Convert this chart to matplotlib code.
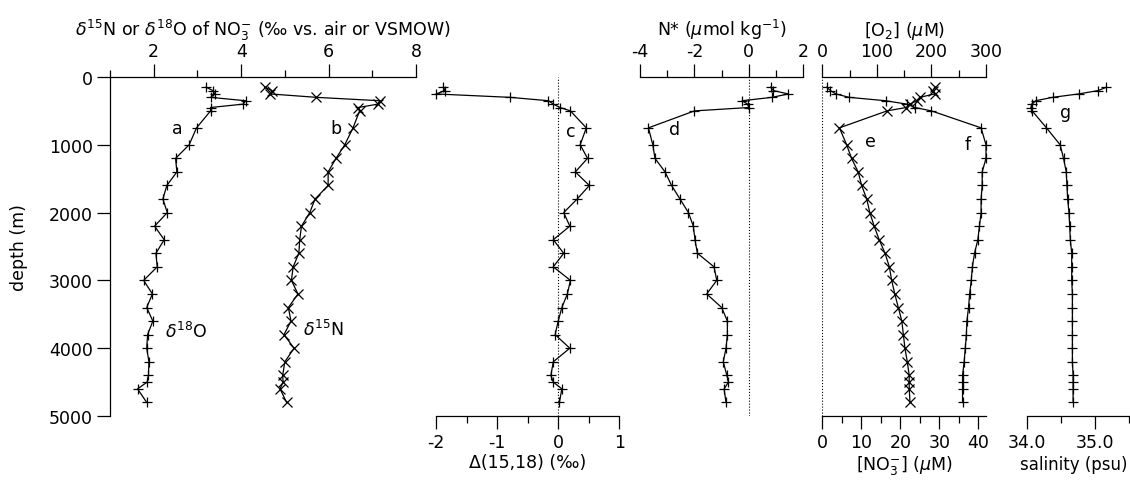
import numpy as np
import matplotlib.pyplot as plt
from matplotlib.ticker import MultipleLocator, FormatStrFormatter

plt.rcParams['font.family'] = ['DejaVu Sans']
plt.rcParams['mathtext.fontset'] = 'dejavusans'
plt.rcParams['axes.unicode_minus'] = False

# sample depths (m), shared by every profile
depth = [150, 200, 250, 300, 350, 400, 450, 500, 750, 1000, 1200, 1400, 1600, 1800,
         2000, 2200, 2400, 2600, 2800, 3000, 3200, 3400, 3600, 3800, 4000, 4200,
         4400, 4500, 4600, 4800]

d18O = [3.2, 3.35, 3.4, 3.3, 4.1, 4.05, 3.3, 3.3, 2.98, 2.81, 2.5, 2.53, 2.3, 2.21,
        2.31, 2.02, 2.24, 2.05, 2.08, 1.77, 1.97, 1.84, 1.98, 1.86, 1.84, 1.89,
        1.88, 1.85, 1.63, 1.84]
d15N = [4.54, 4.7, 4.67, 5.72, 7.17, 7.13, 6.68, 6.71, 6.56, 6.37, 6.17, 5.99, 5.99,
        5.69, 5.57, 5.38, 5.34, 5.32, 5.19, 5.15, 5.30, 5.08, 5.14, 4.98, 5.21, 5.0,
        4.95, 4.96, 4.89, 5.04]
delta1518 = [-1.88, -1.85, -2.0, -0.79, -0.16, -0.08, 0.03, 0.2, 0.46, 0.36, 0.48,
             0.28, 0.51, 0.31, 0.09, 0.19, -0.08, 0.09, -0.08, 0.2, 0.15, 0.06, 0.0,
             -0.05, 0.19, -0.08, -0.12, -0.08, 0.06, 0.02]
nstar = [0.8, 0.9, 1.45, 0.85, -0.25, -0.05, 0.0, -2.0, -3.69, -3.53, -3.45, -3.08,
         -2.84, -2.53, -2.22, -2.04, -1.98, -1.89, -1.28, -1.18, -1.55, -1.0, -0.79,
         -0.79, -0.84, -0.94, -0.81, -0.75, -0.91, -0.84]
no3 = [28.8, 28.5, 28.8, 25.0, 24.2, 22.5, 21.5, 16.6, 4.4, 6.25, 7.5, 9.2, 10.1,
       11.4, 12.2, 13.3, 14.6, 16.1, 17.2, 17.8, 18.6, 19.5, 20.4, 20.8, 21.2, 21.8,
       22.3, 22.3, 22.3, 22.5]
o2 = [8, 15, 25, 49, 116, 155, 170, 200, 291, 300, 300, 293, 293, 291, 291, 288, 285,
      279, 275, 273, 270, 268, 265, 264, 262, 260, 257, 257, 257, 257]
salinity = [35.17, 35.05, 34.76, 34.38, 34.13, 34.08, 34.06, 34.08, 34.29, 34.49,
            34.54, 34.58, 34.59, 34.6, 34.62, 34.63, 34.64, 34.66, 34.66, 34.66,
            34.67, 34.67, 34.67, 34.67, 34.67, 34.67, 34.68, 34.68, 34.68, 34.68]

W, H = 1130, 481
FS = 12.5
fig = plt.figure(figsize=(W / 100, H / 100), dpi=100)

def box(x0, x1):
    return [x0 / W, (H - 417) / H, (x1 - x0) / W, 339 / H]

def style(ax, spines):
    for s in ['left', 'right', 'top', 'bottom']:
        ax.spines[s].set_visible(s in spines)
        ax.spines[s].set_linewidth(0.9)
    ax.set_ylim(5000, 0)
    ax.tick_params(which='major', direction='out', length=9.5, width=0.9, labelsize=FS, pad=3)
    ax.tick_params(which='minor', direction='out', length=5, width=0.9)
    if 'left' not in spines:
        ax.tick_params(axis='y', left=False, labelleft=False)
    ax.patch.set_alpha(0)

def prof(ax, x, m):
    ax.plot(x, depth, color='k', lw=0.9, marker=m, ms=7, mew=0.9, clip_on=False)

# a, b: d15N and d18O
ax1 = fig.add_axes(box(110, 416))
style(ax1, ['left', 'top'])
prof(ax1, d18O, '+')
prof(ax1, d15N, 'x')
ax1.set_xlim(1, 8)
ax1.xaxis.tick_top()
ax1.xaxis.set_label_position('top')
ax1.xaxis.set_major_locator(MultipleLocator(2))
ax1.xaxis.set_minor_locator(MultipleLocator(1))
ax1.yaxis.set_major_locator(MultipleLocator(1000))
ax1.set_ylabel('depth (m)', fontsize=FS)
ax1.yaxis.set_label_coords(-82 / 306, 0.5)
ax1.set_xlabel(r'$\delta^{15}$N or $\delta^{18}$O of NO$_3^{-}$ (‰ vs. air or VSMOW)',
               fontsize=FS, labelpad=5)
ax1.text(2.41, 757, 'a', fontsize=FS, ha='left', va='center')
ax1.text(6.05, 757, 'b', fontsize=FS, ha='left', va='center')
ax1.text(2.26, 3740, r'$\delta^{18}$O', fontsize=FS, ha='left', va='center')
ax1.text(5.41, 3710, r'$\delta^{15}$N', fontsize=FS, ha='left', va='center')

# c: Delta(15,18)
ax2 = fig.add_axes(box(436, 619.3))
style(ax2, ['bottom'])
ax2.axvline(0, color='k', ls=':', lw=0.8)
prof(ax2, delta1518, '+')
ax2.set_xlim(-2, 1)
ax2.xaxis.set_major_locator(MultipleLocator(1))
ax2.xaxis.set_minor_locator(MultipleLocator(0.5))
ax2.set_xlabel('Δ(15,18) (‰)', fontsize=FS, labelpad=1)
ax2.text(0.13, 790, 'c', fontsize=FS, ha='left', va='center')

# d: N*
ax3 = fig.add_axes(box(640, 803.3))
style(ax3, ['top'])
ax3.axvline(0, color='k', ls=':', lw=0.8)
prof(ax3, nstar, '+')
ax3.set_xlim(-4, 2)
ax3.xaxis.tick_top()
ax3.xaxis.set_label_position('top')
ax3.xaxis.set_major_locator(MultipleLocator(2))
ax3.xaxis.set_minor_locator(MultipleLocator(1))
ax3.set_xlabel(r'N* ($\mu$mol kg$^{-1}$)', fontsize=FS, labelpad=5)
ax3.text(-2.95, 767, 'd', fontsize=FS, ha='left', va='center')

# e, f: nitrate (bottom) and oxygen (top)
ax4 = fig.add_axes(box(822.3, 986))
style(ax4, ['bottom'])
ax4.axvline(0, color='k', ls=':', lw=0.8)
prof(ax4, no3, 'x')
ax4.set_xlim(0, 42)
ax4.xaxis.set_major_locator(MultipleLocator(10))
ax4.xaxis.set_minor_locator(MultipleLocator(5))
ax4.set_xlabel(r'[NO$_3^{-}$] ($\mu$M)', fontsize=FS, labelpad=1)
ax4.text(10.9, 950, 'e', fontsize=FS, ha='left', va='center')
ax4.text(36.6, 985, 'f', fontsize=FS, ha='left', va='center')

ax4b = ax4.twiny()
style(ax4b, ['top'])
prof(ax4b, o2, '+')
ax4b.set_xlim(0, 300)
ax4b.xaxis.set_major_locator(MultipleLocator(100))
ax4b.xaxis.set_minor_locator(MultipleLocator(50))
ax4b.set_xlabel(r'[O$_2$] ($\mu$M)', fontsize=FS, labelpad=5)

# g: salinity
ax5 = fig.add_axes(box(1026.7, 1129))
style(ax5, ['bottom'])
prof(ax5, salinity, '+')
ax5.set_xlim(34.0, 35.5)
ax5.xaxis.set_major_locator(MultipleLocator(1.0))
ax5.xaxis.set_minor_locator(MultipleLocator(0.5))
ax5.xaxis.set_major_formatter(FormatStrFormatter('%.1f'))
ax5.set_xlabel('salinity (psu)', fontsize=12, labelpad=1, ha='right')
ax5.xaxis.set_label_coords(101 / 102.3, -0.115)
ax5.text(34.49, 520, 'g', fontsize=FS, ha='left', va='center')

fig.savefig('out.png', dpi=100)
